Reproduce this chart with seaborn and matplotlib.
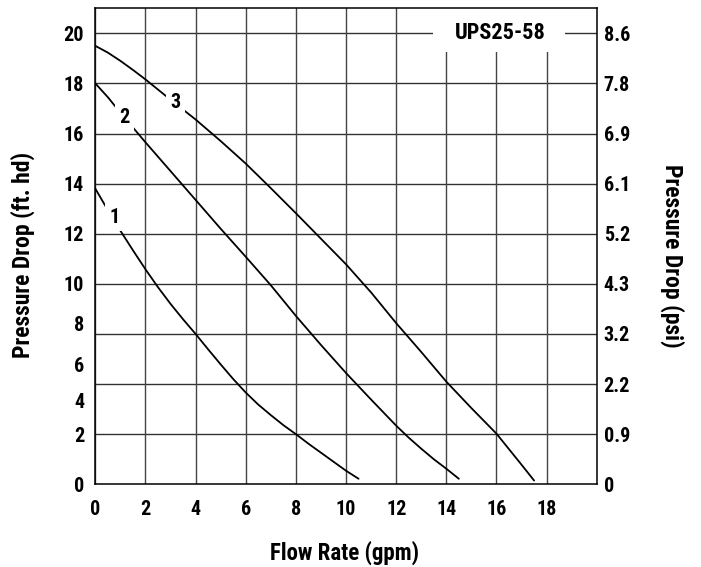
import numpy as np
import pandas as pd
import matplotlib
matplotlib.use("Agg")
import matplotlib.pyplot as plt
from matplotlib.patches import Rectangle
from matplotlib import font_manager as fm
import seaborn as sns

# ---------------- data ----------------
flow1 = [0, 0.5, 1, 1.5, 2, 2.5, 3, 3.5, 4, 4.5, 5, 5.5, 6, 6.5, 7, 7.5, 8,
         8.5, 9, 9.5, 10, 10.5]
head1 = [13.8, 12.94, 12.12, 11.34, 10.58, 9.83, 9.0, 8.23, 7.5, 6.73, 5.98, 5.25,
         4.49, 3.77, 3.14, 2.54, 2.0, 1.62, 1.26, 0.9, 0.54, 0.22]

flow2 = [0, 0.5, 1, 2, 3, 4, 5, 6, 7, 8, 9, 10, 11, 11.5, 12, 12.5, 13, 13.5, 14, 14.5]
head2 = [18.0, 17.45, 16.83, 15.65, 14.5, 13.35, 12.2, 11.08, 9.93, 8.4, 6.95, 5.55,
         4.07, 3.29, 2.51, 1.86, 1.42, 1.0, 0.62, 0.22]

flow3 = [0, 0.5, 1, 1.5, 2, 3, 4, 5, 6, 7, 8, 9, 10, 11, 12, 13, 14, 15, 16, 17, 17.5]
head3 = [19.5, 19.23, 18.9, 18.54, 18.16, 17.35, 16.56, 15.7, 14.8, 13.82, 12.82,
         11.8, 10.78, 9.57, 8.04, 6.6, 5.12, 3.56, 2.03, 0.78, 0.15]

curve_names = ["1", "2", "3"]
label_pos_x = [0.75, 1.16, 3.19]
label_pos_y = [12.66, 16.63, 17.23]

x_ticks = [0, 2, 4, 6, 8, 10, 12, 14, 16, 18]
left_ticks = [0, 2, 4, 6, 8, 10, 12, 14, 16, 18, 20]
grid_ft = [0, 2, 5, 7.5, 10, 12, 14, 16, 18, 20]
psi_labels = ["0", "0.9", "2.2", "3.2", "4.3", "5.2", "6.1", "6.9", "7.8", "8.6"]
title_text = "UPS25-58"


# ---------------- font choice (heavy condensed if available) ----------------
def _weight(f):
    w = f.weight
    if isinstance(w, str):
        return {"bold": 700, "heavy": 900, "black": 900, "extra bold": 800,
                "semibold": 600, "demibold": 600}.get(w.lower(), 400)
    return w


def _is_cond(f):
    s = f.stretch
    nm = f.name.lower()
    if "narrow" in nm or "condensed" in nm:
        return True
    if isinstance(s, str):
        return "condensed" in s.lower()
    return s < 500


def pick_font():
    best, best_score = None, None
    for f in fm.fontManager.ttflist:
        w = _weight(f)
        if w < 700:
            continue
        if "italic" in f.style.lower() or "oblique" in f.style.lower():
            continue
        name = f.name.lower()
        if _is_cond(f):
            if "liberation sans narrow" in name:
                r = 0
            elif "roboto condensed" in name:
                r = 1
            elif "noto sans" in name:
                r = 2
            elif "open sans" in name:
                r = 3
            elif "dejavu" in name:
                r = 4
            else:
                r = 5
        elif name == "roboto":
            r = 10
        else:
            continue
        score = (r, abs(w - 800))
        if best_score is None or score < best_score:
            best_score, best = score, f
    if best is None:
        return fm.FontProperties(family="DejaVu Sans", weight="bold")
    return fm.FontProperties(fname=best.fname)


FP = pick_font()


def fp(size):
    p = FP.copy()
    p.set_size(size)
    return p


# ---------------- build frame ----------------
df = pd.concat([
    pd.DataFrame({"flow": flow1, "head": head1, "curve": "1"}),
    pd.DataFrame({"flow": flow2, "head": head2, "curve": "2"}),
    pd.DataFrame({"flow": flow3, "head": head3, "curve": "3"}),
], ignore_index=True)

sns.set_theme(style="white")
plt.rcParams["font.family"] = ["DejaVu Sans"]
for k in ("text.color", "axes.labelcolor", "xtick.color", "ytick.color"):
    plt.rcParams[k] = "black"

# piecewise scale: the grid lines are evenly spaced in the chart
knots_ft = [-100] + grid_ft + [100]
knots_idx = [-50] + list(range(len(grid_ft))) + [len(grid_ft) - 1 + 40]


def fwd(v):
    return np.interp(v, knots_ft, knots_idx)


def inv(v):
    return np.interp(v, knots_idx, knots_ft)


fig = plt.figure(figsize=(7.01, 5.67), dpi=100)
ax = fig.add_axes([0.136, 0.1459, 0.7153, 0.8395])
ax.set_yscale("function", functions=(fwd, inv))

sns.lineplot(data=df, x="flow", y="head", hue="curve",
             palette={"1": "black", "2": "black", "3": "black"},
             legend=False, ax=ax, linewidth=1.3, zorder=3, sort=False)

ax.set_xlim(0, 20)
ax.set_ylim(0, 21)
ax.set_axisbelow(True)

ax.set_xticks(x_ticks)
ax.set_xticklabels([str(t) for t in x_ticks], fontproperties=fp(14.5))
ax.set_yticks(left_ticks)
ax.set_yticklabels([str(t) for t in left_ticks], fontproperties=fp(14.5))
ax.tick_params(axis="both", which="both", length=0)
ax.tick_params(axis="x", pad=11)
ax.tick_params(axis="y", pad=8)

ax.grid(False)
ax.grid(True, axis="x", which="major", color="#444444", linewidth=1.0, zorder=0.5)
for g in grid_ft[1:]:
    ax.axhline(g, color="#333333", linewidth=1.0, zorder=0.5)

for s in ax.spines.values():
    s.set_visible(True)
    s.set_color("black")
    s.set_linewidth(1.1)

ax.set_xlabel("Flow Rate (gpm)", fontproperties=fp(16.5))
ax.xaxis.set_label_coords(0.496, -0.1443)
ax.xaxis.label.set_verticalalignment("center")
ax.set_ylabel("Pressure Drop (ft. hd)", fontproperties=fp(17))
ax.yaxis.set_label_coords(-0.144, 0.4817)
ax.yaxis.label.set_verticalalignment("center")
ax.yaxis.label.set_horizontalalignment("center")

# right axis (psi)
ax2 = ax.twinx()
ax2.set_yscale("function", functions=(fwd, inv))
ax2.set_ylim(0, 21)
ax2.set_yticks(grid_ft)
ax2.set_yticklabels(psi_labels, fontproperties=fp(14.5))
ax2.tick_params(axis="y", length=0, pad=5)
for s in ax2.spines.values():
    s.set_visible(False)
ax2.grid(False)
ax2.set_ylabel("Pressure Drop (psi)", fontproperties=fp(17), rotation=270)
ax2.yaxis.set_label_coords(1.150, 0.4796)
ax2.yaxis.label.set_verticalalignment("center")
ax2.yaxis.label.set_horizontalalignment("center")

# title box
ax.add_patch(Rectangle((0.6735, 0.9088), 0.263, 0.0912, transform=ax.transAxes,
                       facecolor="white", edgecolor="none", zorder=1.5))
ax.text(16.15, 20, title_text, ha="center", va="center", fontproperties=fp(16),
        zorder=4)

# curve labels with gaps
for name, lx, ly in zip(curve_names, label_pos_x, label_pos_y):
    ax.text(lx, ly, name, ha="center", va="center", fontproperties=fp(14.5),
            zorder=4, bbox=dict(boxstyle="square,pad=0.22", facecolor="white",
                                edgecolor="none"))

fig.savefig("out.png", dpi=100)
